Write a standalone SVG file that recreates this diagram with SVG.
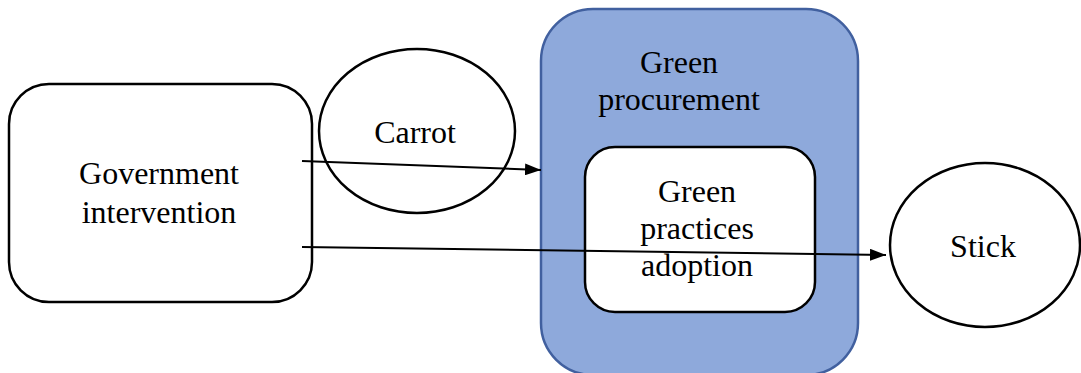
<svg xmlns="http://www.w3.org/2000/svg" width="1081" height="373" viewBox="0 0 1081 373">
<defs>
<marker id="ah" markerWidth="16" markerHeight="12" refX="16" refY="6" orient="auto" markerUnits="userSpaceOnUse">
<path d="M0,0 L16,6 L0,12 Z" fill="#000"/>
</marker>
<style>
.n{fill:#fff;stroke:#000;stroke-width:2.5}
.c{fill:none;stroke:#000;stroke-width:2}
</style>
</defs>
<rect width="1081" height="373" fill="#fff"/>
<g font-size="32" fill="#000" text-anchor="middle">
<g id="gov">
<rect class="n" x="9" y="84" width="303" height="218" rx="40"/>
<text x="159" y="184" font-family="Times New Roman">Government</text>
<text x="159" y="223" font-family="Times New Roman">intervention</text>
</g>
<g id="carrot">
<ellipse class="n" cx="417" cy="131" rx="98" ry="82"/>
<text x="415" y="143" font-family="Times New Roman">Carrot</text>
</g>
<g id="procurement">
<rect x="541" y="9" width="317" height="366" rx="52" fill="#8EA9DB" stroke="#41609F" stroke-width="2.5"/>
<text x="679" y="73" font-family="Times New Roman">Green</text>
<text x="679" y="110" font-family="Times New Roman">procurement</text>
</g>
<g id="practices">
<rect class="n" x="585" y="147" width="230" height="165" rx="30"/>
<text x="697" y="202" font-family="Times New Roman">Green</text>
<text x="697" y="239" font-family="Times New Roman">practices</text>
<text x="697" y="276" font-family="Times New Roman">adoption</text>
</g>
<g id="stick">
<ellipse class="n" cx="985" cy="245" rx="95" ry="82"/>
<text x="983" y="257" font-family="Times New Roman">Stick</text>
</g>
</g>
<g id="connectors">
<line class="c" x1="302" y1="161" x2="541" y2="170" marker-end="url(#ah)"/>
<line class="c" x1="302" y1="247" x2="886" y2="255" marker-end="url(#ah)"/>
</g>
</svg>
